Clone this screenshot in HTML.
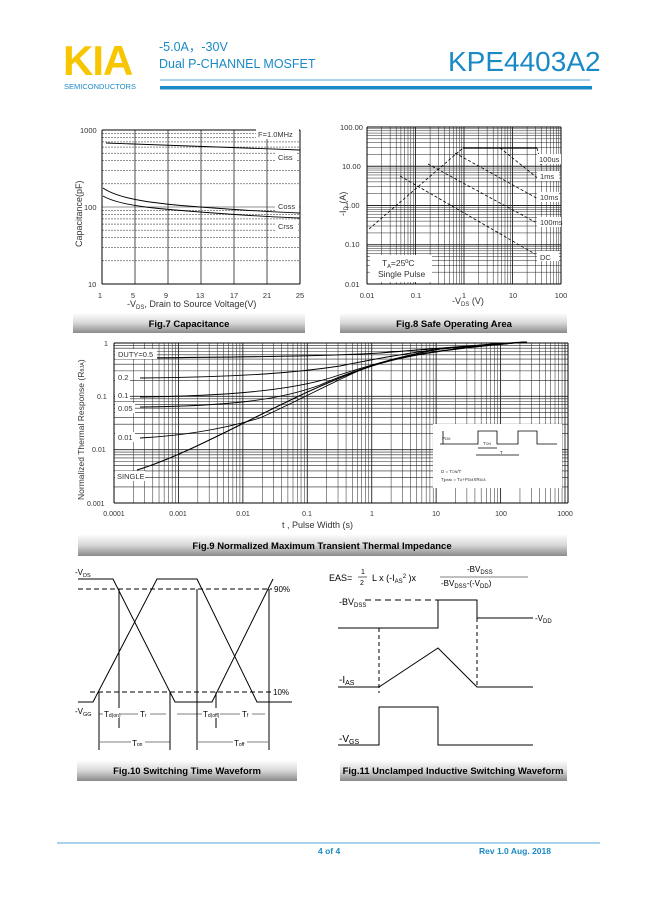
<!DOCTYPE html>
<html><head><meta charset="utf-8"><style>
body{margin:0;background:#fff;}
svg{display:block;font-family:"Liberation Sans",Arial,sans-serif;}
</style></head><body>
<svg id="s" width="649" height="917" viewBox="0 0 649 917" xmlns="http://www.w3.org/2000/svg">
<defs>
<linearGradient id="cap" x1="0" y1="0" x2="0" y2="1">
<stop offset="0" stop-color="#ffffff"/><stop offset="0.5" stop-color="#d8d8d8"/><stop offset="1" stop-color="#8a8a8a"/></linearGradient>
</defs>
<!-- header -->
<text x="63" y="75" font-size="42" font-weight="bold" fill="#f7c600" letter-spacing="-1">KIA</text>
<text x="64" y="89" font-size="7.5" fill="#1a8ac6">SEMICONDUCTORS</text>
<text x="159" y="51" font-size="12.5" fill="#1a8ac6">-5.0A，-30V</text>
<text x="159" y="68" font-size="12.5" fill="#1a8ac6">Dual P-CHANNEL MOSFET</text>
<text x="448" y="71" font-size="28" fill="#1a8ac6">KPE4403A2</text>
<line x1="160" y1="80" x2="590" y2="80" stroke="#1a8ac6" stroke-width="0.7"/>
<rect x="160" y="86" width="432" height="3.5" fill="#1a8ac6"/>

<g id="g" stroke-linecap="butt"></g>

<!-- Fig7 text -->
<g font-size="7.5" fill="#333">
<text x="80" y="133">1000</text><text x="84" y="210">100</text><text x="88" y="287">10</text>
<text x="100" y="298" text-anchor="middle">1</text><text x="133" y="298" text-anchor="middle">5</text>
<text x="166" y="298" text-anchor="middle">9</text><text x="200" y="298" text-anchor="middle">13</text>
<text x="234" y="298" text-anchor="middle">17</text><text x="267" y="298" text-anchor="middle">21</text>
<text x="300" y="298" text-anchor="middle">25</text>
<text x="127" y="307" font-size="9">-V<tspan font-size="6" dy="2">DS</tspan><tspan dy="-2">, Drain to Source Voltage(V)</tspan></text>
<text transform="translate(82,247) rotate(-90)" font-size="9">Capacitance(pF)</text>
<rect x="256" y="129" width="43" height="10" fill="#fff"/><text x="258" y="137">F=1.0MHz</text>
<rect x="275" y="152" width="22" height="10" fill="#fff"/><text x="278" y="160">Ciss</text>
<rect x="275" y="201" width="24" height="10" fill="#fff"/><text x="278" y="209">Coss</text>
<rect x="276" y="221" width="22" height="10" fill="#fff"/><text x="278" y="229">Crss</text>
</g>
<!-- Fig8 text -->
<g font-size="7.5" fill="#333">
<text x="340" y="130">100.00</text><text x="342" y="169">10.00</text><text x="345" y="208">1.00</text>
<text x="345" y="247">0.10</text><text x="345" y="287">0.01</text>
<text x="367" y="298" text-anchor="middle">0.01</text><text x="416" y="298" text-anchor="middle">0.1</text>
<text x="464" y="298" text-anchor="middle">1</text><text x="513" y="298" text-anchor="middle">10</text>
<text x="561" y="298" text-anchor="middle">100</text>
<text x="452" y="304" font-size="9">-V<tspan font-size="6" dy="2">DS</tspan><tspan dy="-2"> (V)</tspan></text>
<text transform="translate(346,216) rotate(-90)" font-size="9">-I<tspan font-size="6" dy="2">D</tspan><tspan dy="-2"> (A)</tspan></text>
<rect x="537" y="154" width="24" height="10" fill="#fff"/><text x="539" y="162">100us</text>
<rect x="537" y="171" width="22" height="10" fill="#fff"/><text x="540" y="179">1ms</text>
<rect x="537" y="192" width="22" height="10" fill="#fff"/><text x="540" y="200">10ms</text>
<rect x="537" y="217" width="24" height="10" fill="#fff"/><text x="540" y="225">100ms</text>
<rect x="537" y="251" width="22" height="10" fill="#fff"/><text x="540" y="260">DC</text>
<rect x="370" y="255" width="62" height="27" fill="#fff"/>
<text x="382" y="266" font-size="8.5">T<tspan font-size="5.5" dy="2">A</tspan><tspan dy="-2">=25ºC</tspan></text>
<text x="378" y="277" font-size="8.5">Single Pulse</text>
</g>
<!-- Fig9 text -->
<g font-size="7" fill="#333">
<text x="104" y="346">1</text><text x="97" y="399">0.1</text><text x="92" y="452">0.01</text><text x="87" y="506">0.001</text>
<text x="114" y="516" text-anchor="middle">0.0001</text><text x="178" y="516" text-anchor="middle">0.001</text>
<text x="243" y="516" text-anchor="middle">0.01</text><text x="307" y="516" text-anchor="middle">0.1</text>
<text x="372" y="516" text-anchor="middle">1</text><text x="436" y="516" text-anchor="middle">10</text>
<text x="501" y="516" text-anchor="middle">100</text><text x="565" y="516" text-anchor="middle">1000</text>
<text x="282" y="528" font-size="9">t , Pulse Width (s)</text>
<text transform="translate(84,500) rotate(-90)" font-size="8.5">Normalized Thermal Response (R<tspan font-size="5.5">θJA</tspan>)</text>
<rect x="115" y="349" width="42" height="10" fill="#fff"/><text x="118" y="357" font-size="7.5">DUTY=0.5</text>
<rect x="115" y="372" width="15" height="10" fill="#fff"/><text x="118" y="380" font-size="7.5">0.2</text>
<rect x="115" y="390" width="15" height="10" fill="#fff"/><text x="118" y="398" font-size="7.5">0.1</text>
<rect x="115" y="403" width="20" height="10" fill="#fff"/><text x="118" y="411" font-size="7.5">0.05</text>
<rect x="115" y="432" width="20" height="10" fill="#fff"/><text x="118" y="440" font-size="7.5">0.01</text>
<rect x="115" y="471" width="30" height="10" fill="#fff"/><text x="117" y="479" font-size="7.5">SINGLE</text>
<rect x="433" y="424" width="129" height="64" fill="#fff"/>
<path d="M443,431 V444 M440,444 H478 V431 H497 V444 H518 V431 H537 V444 H557 M478,448 H497 M476,455 H519" stroke="#000" stroke-width="0.8" fill="none"/>
<text x="442" y="440" font-size="4.5">P<tspan font-size="3.5">DM</tspan></text>
<text x="483" y="445" font-size="4.5">T<tspan font-size="3.5">ON</tspan></text>
<text x="500" y="454" font-size="4.5">T</text>
<text x="441" y="473" font-size="4.5">D = T<tspan font-size="3.5">ON</tspan>/T</text>
<text x="441" y="481" font-size="4.5">T<tspan font-size="3.5">jpeak</tspan> = T<tspan font-size="3.5">A</tspan>+P<tspan font-size="3.5">DM</tspan>XR<tspan font-size="3.5">θJA</tspan></text>
</g>

<!-- caption bars -->
<rect x="73" y="313" width="232" height="20" fill="url(#cap)"/>
<text x="189" y="327" font-size="9.5" font-weight="bold" text-anchor="middle">Fig.7 Capacitance</text>
<rect x="340" y="313" width="227" height="20" fill="url(#cap)"/>
<text x="454" y="327" font-size="9.5" font-weight="bold" text-anchor="middle">Fig.8 Safe Operating Area</text>
<rect x="78" y="534" width="489" height="22" fill="url(#cap)"/>
<text x="322" y="549" font-size="9.5" font-weight="bold" text-anchor="middle">Fig.9 Normalized Maximum Transient Thermal Impedance</text>
<rect x="77" y="760" width="220" height="21" fill="url(#cap)"/>
<text x="187" y="774" font-size="9.5" font-weight="bold" text-anchor="middle">Fig.10 Switching Time Waveform</text>
<rect x="340" y="760" width="227" height="21" fill="url(#cap)"/>
<text x="453" y="774" font-size="9.5" font-weight="bold" text-anchor="middle">Fig.11 Unclamped Inductive Switching Waveform</text>

<!-- Fig10 -->
<g stroke="#000" stroke-width="1" fill="none">
<path d="M78,579 H113 L175,702 H212 L273,579"/>
<path d="M78,702 H93 L157,579 H197 L257,702 H292"/>
<path d="M78,589 H272 M90,692 H272" stroke-dasharray="5,3"/>
<path d="M99,692 V750 M119,589 V728 M170,692 V750 M197,589 V750 M216,692 V728 M269,589 V750"/>
<path d="M99,714 H166 M177,714 H214 M219,714 H265 M100,742 H170 M198,742 H268" stroke-width="0.6"/>
</g>
<g font-size="8" fill="#000">
<text x="75" y="575">-V<tspan font-size="5.5" dy="2">DS</tspan></text>
<text x="75" y="714">-V<tspan font-size="5.5" dy="2">GG</tspan></text>
<text x="274" y="592">90%</text><text x="273" y="695">10%</text>
<rect x="103" y="708" width="17" height="10" fill="#fff"/><text x="104" y="717">T<tspan font-size="5">d(on)</tspan></text>
<rect x="138" y="708" width="12" height="10" fill="#fff"/><text x="140" y="717">T<tspan font-size="5">r</tspan></text>
<rect x="202" y="708" width="18" height="10" fill="#fff"/><text x="203" y="717">T<tspan font-size="5">d(off)</tspan></text>
<rect x="240" y="708" width="12" height="10" fill="#fff"/><text x="242" y="717">T<tspan font-size="5">f</tspan></text>
<rect x="131" y="737" width="14" height="10" fill="#fff"/><text x="132" y="746">T<tspan font-size="5">on</tspan></text>
<rect x="233" y="737" width="14" height="10" fill="#fff"/><text x="234" y="746">T<tspan font-size="5">off</tspan></text>
</g>
<!-- Fig11 -->
<g stroke="#000" stroke-width="1" fill="none">
<path d="M338,628 H438 V600 H477 V618 H533"/>
<path d="M365,600 H438" stroke-dasharray="6,4"/>
<path d="M379,628 V693 M477,618 V686" stroke-dasharray="4,3"/>
<path d="M338,687 H379 L438,648 L477,687 H533"/>
<path d="M338,745 H379 V707 H438 V745 H533"/>
</g>
<g font-size="9" fill="#000">
<text x="329" y="581">EAS=</text>
<text x="361" y="574" font-size="7">1</text><line x1="358" y1="577" x2="367" y2="577" stroke="#000" stroke-width="0.6"/><text x="360" y="585" font-size="7">2</text>
<text x="372" y="581">L x (-I<tspan font-size="6" dy="2">AS</tspan><tspan dy="-5" font-size="6">2</tspan><tspan dy="3"> )x</tspan></text>
<text x="467" y="572" font-size="8">-BV<tspan font-size="6" dy="2">DSS</tspan></text>
<line x1="440" y1="577" x2="528" y2="577" stroke="#000" stroke-width="0.6"/>
<text x="441" y="586" font-size="8">-BV<tspan font-size="6" dy="2">DSS</tspan><tspan dy="-2">-(-V</tspan><tspan font-size="6" dy="2">DD</tspan><tspan dy="-2">)</tspan></text>
<text x="339" y="605">-BV<tspan font-size="6" dy="2">DSS</tspan></text>
<text x="535" y="621" font-size="8">-V<tspan font-size="6" dy="2">DD</tspan></text>
<text x="339" y="683" font-size="10">-I<tspan font-size="7" dy="2">AS</tspan></text>
<text x="339" y="742" font-size="10">-V<tspan font-size="7" dy="2">GS</tspan></text>
</g>

<!-- footer -->
<line x1="57" y1="843" x2="600" y2="843" stroke="#1a8ac6" stroke-width="0.8"/>
<text x="318" y="854" font-size="8.5" font-weight="bold" fill="#1a8ac6">4 of 4</text>
<text x="479" y="854" font-size="8.5" font-weight="bold" fill="#1a8ac6">Rev 1.0 Aug. 2018</text>
</svg>
<script>
var g=document.getElementById('g'),NS='http://www.w3.org/2000/svg';
function L(x1,y1,x2,y2,c,w,d){var l=document.createElementNS(NS,'line');l.setAttribute('x1',x1);l.setAttribute('y1',y1);l.setAttribute('x2',x2);l.setAttribute('y2',y2);l.setAttribute('stroke',c||'#000');l.setAttribute('stroke-width',w||0.6);if(d)l.setAttribute('stroke-dasharray',d);g.appendChild(l);}
function P(d,w,da){var p=document.createElementNS(NS,'path');p.setAttribute('d',d);p.setAttribute('fill','none');p.setAttribute('stroke','#000');p.setAttribute('stroke-width',w||0.9);if(da)p.setAttribute('stroke-dasharray',da);g.appendChild(p);}
function logs(a,b,n){var r=[];for(var i=0;i<n;i++)for(var k=1;k<10;k++){r.push(a+(b-a)/n*(i+Math.log10(k)));}r.push(b);return r;}
// Fig7
(function(){var x0=102,x1=300,y0=130,y1=284;
logs(y1,y0,2).forEach(function(y,i){L(x0,y,x1,y,'#222',0.5,(i%9==0)?null:'2,1');});
for(var i=0;i<7;i++){var x=x0+i*33;L(x,y0,x,y1,'#222',0.8);}
L(x0,y0,x0,y1,'#000',1);L(x0,y1,x1,y1,'#000',1);L(x1,y0,x1,y1,'#000',1);L(x0,y0,x1,y0,'#000',1);
P('M106,143 C160,145 230,148 300,150');
P('M103,188 C120,200 160,204 200,207 C240,210 270,212 300,213');
P('M103,196 C120,206 160,209 200,212 C240,215 270,217 300,218');
})();
// Fig8
(function(){var x0=367,x1=561,y0=127,y1=284;
logs(x0,x1,4).forEach(function(x,i){L(x,y0,x,y1,'#222',(i%9==0)?0.9:0.5);});
logs(y1,y0,4).forEach(function(y,i){L(x0,y,x1,y,'#222',(i%9==0)?0.9:0.5);});
L(x0,y0,x1,y0,'#000',1);L(x0,y1,x1,y1,'#000',1);L(x0,y0,x0,y1,'#000',1);L(x1,y0,x1,y1,'#000',1);
P('M369,229 L463,148',0.8,'3,2');P('M463,148 H537',1.2);
P('M537,148 L541,165',0.8,'3,2');P('M500,148 L540,180',0.8,'3,2');
P('M455,153 L540,200',0.8,'3,2');P('M428,164 L535,222',0.8,'3,2');P('M400,176 L535,254',0.8,'3,2');
})();
// Fig9
(function(){var x0=114,x1=568,y0=343,y1=503;var xe=x0+(565-114);
logs(x0,565,7).forEach(function(x,i){L(x,y0,x,y1,'#222',(i%9==0)?0.9:0.5);});
logs(y1,y0,3).forEach(function(y,i){L(x0,y,x1,y,'#222',(i%9==0)?0.9:0.6);});
L(x0,y0,x1,y0,'#000',1);L(x0,y1,x1,y1,'#000',1);L(x0,y0,x0,y1,'#000',1);L(x1,y0,x1,y1,'#000',1);
P('M140,358 C250,357 330,356 380,353 C430,349 480,345 527,342',1.1);
P('M140,378 C250,377 300,372 340,366 C370,360 400,354 440,349 C480,345 500,343 527,342',0.9);
P('M140,397 C230,396 290,390 330,378 C360,368 400,356 440,349 C480,345 527,342 527,342',0.9);
P('M140,407 C230,406 280,400 320,385 C350,372 390,358 440,349 L527,342',0.9);
P('M140,438 C180,436 220,430 260,418 C300,400 340,378 370,366 C400,356 440,349 527,342',0.9);
P('M137,470 C170,460 210,440 250,420 C290,400 330,380 372,366 C400,357 440,349 527,342',1.1);
})();
</script>
</body></html>
